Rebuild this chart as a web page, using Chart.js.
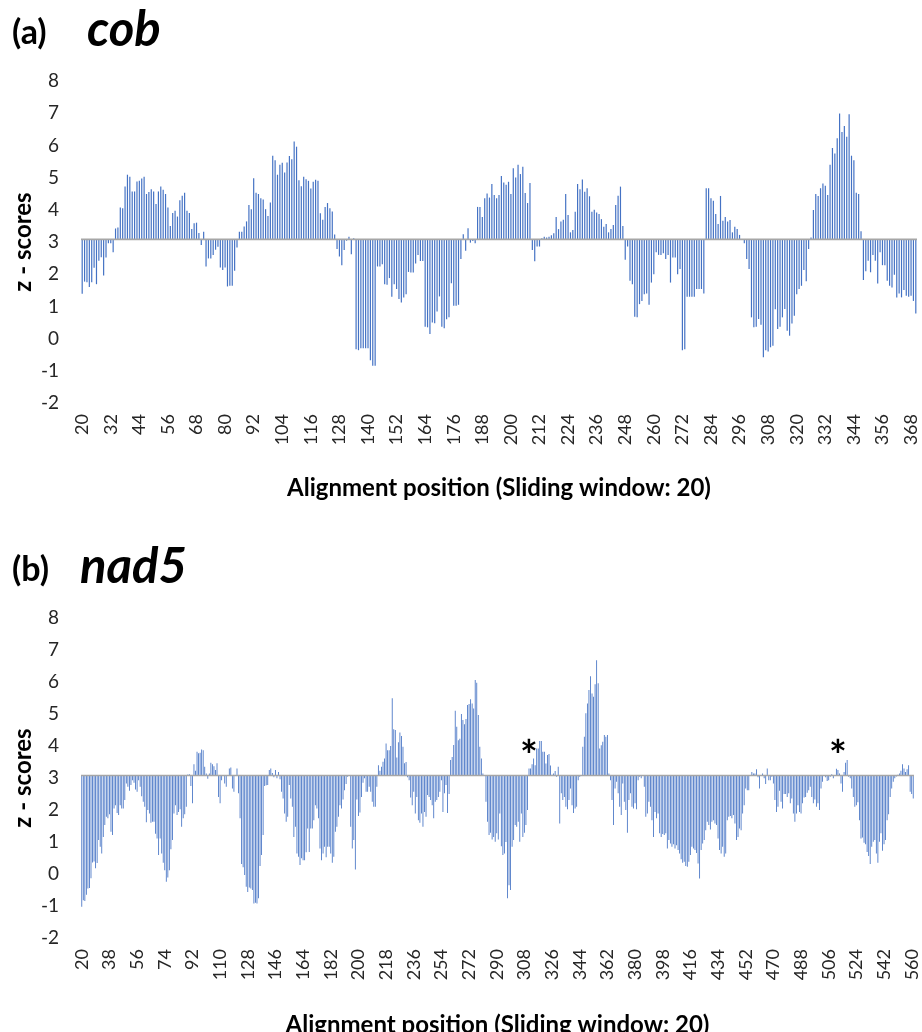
<!DOCTYPE html>
<html>
<head>
<meta charset="utf-8">
<script src="https://cdn.jsdelivr.net/npm/chart.js@4.4.1/dist/chart.umd.min.js"></script>
<style>
  html, body { margin: 0; padding: 0; background: #fff; overflow: hidden; }
  .panel { position: absolute; left: 0; width: 922px; height: 516px; }
</style>
</head>
<body>
<div class="panel" style="top:0"><canvas id="cobChart" width="922" height="516"></canvas></div>
<div class="panel" style="top:537px"><canvas id="nad5Chart" width="922" height="516"></canvas></div>
<script>
// bars are drawn up/down from this z-score (where Excel crossed the axis)
const BASE = 3.08;

// (a) cob, positions 20..370
const cobZ = [
  1.39, 1.77, 1.75, 1.6, 1.75, 2.2, 1.69, 2.42, 2.53, 1.96,
  2.52, 2.96, 2.96, 2.68, 3.42, 3.45, 4.07, 4.05, 4.72, 5.09,
  5.03, 4.57, 4.57, 4.88, 4.9, 4.97, 5.03, 4.49, 4.55, 4.64,
  4.57, 4.18, 4.57, 4.72, 4.62, 4.49, 4.07, 3.5, 3.9, 3.97,
  3.79, 4.3, 4.44, 4.53, 3.97, 3.9, 3.4, 3.58, 3.6, 3.28,
  2.91, 3.32, 2.24, 2.49, 2.49, 2.6, 2.76, 2.85, 2.21, 2.13,
  2.21, 1.62, 1.64, 1.64, 2.11, 2.83, 3.32, 3.32, 3.48, 3.64,
  4.15, 4.02, 4.98, 4.53, 4.49, 4.36, 4.32, 4.02, 3.81, 4.23,
  5.68, 5.54, 5.09, 5.4, 5.46, 5.16, 5.47, 5.67, 5.57, 6.12,
  5.96, 4.92, 4.73, 5.03, 4.95, 4.9, 4.66, 4.87, 4.93, 4.9,
  3.89, 3.69, 4.09, 4.21, 4.05, 3.95, 3.23, 2.78, 2.55, 2.28,
  2.75, 3.04, 3.16, 2.62, 3.12, -0.33, -0.36, -0.3, -0.3, -0.3,
  -0.3, -0.67, -0.84, -0.84, 2.24, 2.24, 2.31, 1.69, 1.67, 1.88,
  1.3, 1.69, 1.54, 1.23, 1.12, 1.28, 1.38, 2.07, 2.05, 2.05,
  2.33, 2.6, 2.41, 2.41, 0.37, 0.35, 0.14, 0.5, 0.48, 0.84,
  1.31, 0.37, 0.32, 0.6, 0.66, 1.72, 1.02, 1.02, 1.05, 2.47,
  3.24, 2.73, 3.43, 2.98, 3.03, 2.96, 4.09, 4.09, 3.78, 4.36,
  4.51, 4.38, 4.8, 4.46, 4.36, 4.46, 5.05, 4.85, 4.78, 4.87,
  4.49, 5.29, 5.0, 5.4, 5.11, 5.34, 4.52, 4.21, 4.83, 2.75,
  2.4, 2.86, 2.86, 3.12, 3.16, 3.14, 3.16, 3.21, 3.27, 3.78,
  3.4, 3.64, 3.69, 4.49, 3.84, 3.3, 3.37, 3.94, 4.8, 4.64,
  4.94, 4.56, 4.67, 4.42, 3.94, 4.0, 3.92, 3.87, 3.71, 3.47,
  3.56, 3.3, 3.4, 3.53, 4.15, 4.44, 4.72, 3.5, 2.45, 2.86,
  1.8, 1.69, 0.68, 0.66, 1.07, 1.17, 1.38, 1.4, 1.05, 1.74,
  2.0, 2.68, 2.6, 2.6, 2.65, 2.47, 2.6, 1.74, 2.52, 2.52,
  2.0, 2.16, -0.36, -0.33, 1.3, 1.3, 1.3, 1.3, 1.54, 1.54,
  1.54, 1.4, 4.67, 4.67, 4.36, 4.28, 3.87, 3.56, 4.43, 3.66,
  3.78, 3.64, 3.68, 3.3, 3.47, 3.4, 3.22, 3.06, 2.96, 2.47,
  2.16, 0.66, 0.35, 0.37, 0.61, 0.43, -0.58, -0.36, -0.4, -0.27,
  -0.22, 0.91, 0.3, 0.37, 0.66, 0.92, 0.24, 0.09, 0.47, 0.71,
  1.38, 1.54, 1.64, 2.13, 1.78, 2.78, 3.14, 3.99, 4.49, 4.43,
  4.67, 4.82, 4.75, 4.46, 5.4, 5.92, 5.75, 6.22, 6.99, 6.42,
  6.6, 6.27, 6.97, 5.68, 5.54, 4.53, 4.49, 3.33, 1.82, 2.09,
  2.42, 2.06, 2.6, 2.42, 1.71, 2.68, 2.28, 2.28, 1.8, 1.64,
  1.59, 1.98, 1.28, 1.4, 1.28, 1.51, 1.33, 1.3, 1.33, 1.17,
  0.78
];
const cobTicks = ['20','32','44','56','68','80','92','104','116','128','140','152','164','176','188',
  '200','212','224','236','248','260','272','284','296','308','320','332','344','356','368'];

// (b) nad5, positions 20..561
const nad5Z = [
  -1.02, -0.82, -0.84, -0.65, -0.45, -0.44, -0.13, 0.36, 0.39, 0.18,
  0.34, 1.06, 0.85, 0.64, 1.16, 1.53, 1.79, 1.74, 1.87, 1.32,
  1.22, 2.05, 2.15, 1.91, 1.84, 2.15, 2.05, 2.05, 2.31, 2.83,
  2.73, 2.6, 2.78, 2.93, 2.85, 2.64, 2.57, 2.93, 2.73, 2.43,
  2.26, 2.1, 1.62, 2.0, 1.89, 1.6, 1.63, 1.63, 1.26, 1.11,
  0.59, 1.11, 0.64, 0.35, 0.12, -0.24, -0.11, 0.12, 0.77, 1.06,
  1.89, 2.15, 1.84, 1.94, 2.02, 1.48, 1.74, 1.87, 2.1, 3.11,
  3.12, 2.75, 2.21, 3.43, 3.23, 3.82, 3.77, 3.79, 3.89, 3.87,
  3.35, 3.14, 2.98, 3.14, 3.48, 3.43, 3.37, 3.25, 3.46, 2.41,
  2.21, 2.93, 3.09, 2.83, 2.73, 3.09, 3.3, 3.33, 2.67, 2.57,
  3.09, 3.3, 2.52, 1.74, 0.31, 0.21, -0.03, -0.4, -0.56, -0.42,
  -0.45, -0.5, -0.92, -0.9, -0.92, -0.76, 0.25, 0.59, 1.22, 2.75,
  2.77, 2.78, 3.25, 3.3, 3.16, 3.02, 3.25, 2.99, 3.19, 2.96,
  2.57, 2.36, 1.89, 1.63, 1.79, 2.78, 2.36, 2.1, 1.16, 1.48,
  0.64, 0.54, 0.28, 0.49, 0.43, 0.43, 0.68, 1.42, 0.69, 1.42,
  1.42, 1.68, 2.15, 2.05, 1.74, 0.8, 0.43, 0.64, 0.85, 0.52,
  0.85, 0.85, 0.64, 0.35, 0.54, 1.32, 1.48, 1.79, 2.15, 2.05,
  2.33, 2.62, 2.81, 3.04, 3.09, 1.48, 0.8, 1.06, 0.14, 2.33,
  1.81, 1.92, 2.41, 2.85, 2.99, 2.57, 2.57, 2.73, 2.57, 2.26,
  2.1, 2.1, 2.73, 3.4, 3.23, 3.35, 3.51, 3.61, 4.08, 3.87,
  3.87, 4.0, 5.49, 4.52, 4.5, 3.64, 4.12, 4.42, 4.31, 3.98,
  3.46, 3.5, 3.02, 2.93, 2.39, 2.15, 2.57, 1.89, 2.41, 1.68,
  1.6, 1.89, 1.48, 1.94, 1.79, 2.47, 2.41, 2.31, 2.15, 1.74,
  2.26, 2.31, 2.41, 2.57, 2.93, 1.94, 2.52, 2.78, 1.91, 2.5,
  3.56, 3.66, 4.03, 5.1, 4.6, 4.18, 4.23, 5.0, 4.81, 4.68,
  4.84, 5.28, 5.31, 5.46, 5.33, 5.17, 6.06, 5.98, 4.97, 3.98,
  3.61, 3.14, 3.06, 2.26, 1.63, 1.22, 1.29, 1.08, 1.16, 1.01,
  1.27, 1.08, 1.89, 0.87, 0.59, 0.64, 1.0, -0.76, -0.35, -0.5,
  0.85, 1.06, 1.53, 1.48, 1.63, 1.01, 1.89, 1.16, 1.29, 1.53,
  2.0, 3.3, 3.3, 3.43, 3.61, 3.4, 3.92, 3.92, 4.16, 4.16,
  3.82, 3.82, 3.45, 3.72, 3.75, 3.39, 3.1, 3.14, 3.22, 3.04,
  3.35, 1.58, 2.52, 2.31, 2.41, 2.1, 2.02, 2.31, 2.67, 2.15,
  1.91, 2.05, 2.1, 2.93, 3.04, 3.09, 3.98, 4.29, 5.02, 5.33,
  5.75, 6.18, 5.64, 5.54, 5.93, 6.68, 5.96, 3.92, 4.02, 4.13,
  4.34, 4.29, 4.34, 3.14, 2.93, 2.31, 1.53, 2.67, 2.88, 2.52,
  2.1, 1.84, 2.83, 2.26, 2.0, 1.29, 2.31, 2.52, 2.1, 2.05,
  2.21, 2.02, 2.93, 3.04, 2.99, 3.09, 2.73, 1.79, 1.89, 2.26,
  2.1, 1.68, 1.16, 1.94, 1.74, 1.89, 1.27, 1.16, 1.25, 1.22,
  1.27, 0.8, 1.06, 0.95, 0.85, 0.93, 0.8, 0.9, 0.75, 0.64,
  0.46, 0.35, 0.38, 0.25, 0.23, 0.38, 0.59, 0.85, 0.8, 0.75,
  0.66, 0.33, -0.14, 0.75, 0.95, 1.06, 1.37, 1.63, 1.53, 1.39,
  1.63, 1.68, 1.58, 1.53, 1.11, 0.75, 0.64, 0.85, 0.54, 0.64,
  1.68, 1.79, 1.81, 1.74, 1.84, 1.58, 1.06, 1.16, 1.42, 1.37,
  1.89, 2.15, 2.67, 2.62, 2.62, 3.09, 3.19, 3.14, 3.14, 3.27,
  3.02, 2.67, 3.06, 3.14, 2.99, 2.81, 3.3, 2.93, 2.93, 3.04,
  2.83, 2.31, 1.94, 2.1, 2.6, 2.26, 2.05, 2.5, 2.5, 2.41,
  2.52, 2.21, 2.36, 1.89, 1.63, 1.89, 2.15, 1.94, 1.89, 2.21,
  2.39, 2.41, 2.54, 2.62, 2.73, 2.41, 2.21, 2.33, 2.1, 2.21,
  2.0, 2.67, 2.88, 3.09, 3.02, 2.91, 2.93, 3.04, 3.12, 2.99,
  3.06, 3.29, 3.25, 3.14, 2.83, 2.57, 3.19, 3.48, 3.56, 3.04,
  2.99, 2.67, 2.41, 2.1, 2.15, 2.24, 1.68, 1.11, 1.14, 0.98,
  0.93, 0.69, 0.56, 0.31, 0.85, 1.01, 1.06, 0.64, 0.35, 1.01,
  1.27, 0.73, 0.93, 1.06, 1.68, 1.87, 2.41, 2.67, 2.88, 2.99,
  3.05, 3.1, 3.14, 3.23, 3.43, 3.3, 3.19, 3.27, 3.4, 2.57,
  2.5, 2.36
];
const nad5Ticks = ['20','38','56','74','92','110','128','146','164','182','200','218','236','254','272',
  '290','308','326','344','362','380','398','416','434','452','470','488','506','524','542','560'];
// positions marked with an asterisk in panel (b)
const nad5Stars = ['311', '512'];

const cobPositions = cobZ.map((_, i) => String(20 + i));
const nad5Positions = nad5Z.map((_, i) => String(20 + i));

const FONT = 'Lato';

const panelDecor = {
  id: 'panelDecor',
  afterDatasetsDraw(chart) {
    const { ctx, chartArea, scales: { y } } = chart;
    const yb = y.getPixelForValue(BASE);
    ctx.save();
    ctx.strokeStyle = '#a6a6a6';
    ctx.lineWidth = 1.6;
    ctx.beginPath();
    ctx.moveTo(chartArea.left, yb);
    ctx.lineTo(chartArea.right, yb);
    ctx.stroke();
    ctx.restore();
  },
  afterDraw(chart, args, opts) {
    const { ctx, scales: { x, y } } = chart;
    ctx.save();
    ctx.fillStyle = '#000';
    ctx.textBaseline = 'alphabetic';
    ctx.textAlign = 'left';
    ctx.font = 'bold 34px ' + FONT;
    ctx.fillText(opts.tag, 12, 44);
    ctx.font = 'italic bold 49px ' + FONT;
    ctx.fillText(opts.gene, opts.geneX, 46);
    // asterisks above the marked positions
    ctx.font = 'bold 42px ' + FONT;
    ctx.textAlign = 'center';
    (opts.stars || []).forEach(s => {
      const px = x.getPixelForValue(chart.data.labels.indexOf(s));
      ctx.fillText('*', px, y.getPixelForValue(3.9) + 22);
    });
    ctx.restore();
  }
};

function panelOptions(tickLabels, decor, rightPad, xHeight) {
  return {
    responsive: false,
    animation: false,
    layout: { padding: { top: 81, right: rightPad, left: 0, bottom: 0 } },
    plugins: {
      legend: { display: false },
      tooltip: { enabled: false },
      panelDecor: decor
    },
    scales: {
      x: {
        grid: { display: false, drawTicks: false },
        border: { display: false },
        ticks: {
          autoSkip: false, minRotation: 90, maxRotation: 90, padding: 11,
          color: '#262626', font: { family: FONT, size: 18 },
          callback(v) {
            const l = this.getLabelForValue(v);
            return tickLabels.includes(l) ? l : '';
          }
        },
        title: {
          display: true, text: 'Alignment position (Sliding window: 20)', color: '#000',
          font: { family: FONT, size: 24, weight: 'bold' }, padding: { top: 0, bottom: 13 }
        },
        afterFit(s) { s.height = xHeight; s.paddingLeft = 0; s.paddingRight = 0; }
      },
      y: {
        min: -2, max: 8,
        grid: { display: false, drawTicks: false },
        border: { display: false },
        ticks: { stepSize: 1, padding: 22, color: '#262626', font: { family: FONT, size: 19 } },
        title: {
          display: true, text: 'z - scores', color: '#000',
          font: { family: FONT, size: 24, weight: 'bold' }, padding: { top: 9, bottom: 0 }
        },
        afterFit(s) { s.width = 81; s.paddingTop = 0; s.paddingBottom = 0; }
      }
    }
  };
}

new Chart(document.getElementById('cobChart'), {
  type: 'bar',
  data: {
    labels: cobPositions,
    datasets: [{ data: cobZ, base: BASE, backgroundColor: '#4472c4', borderWidth: 0,
      barPercentage: 0.5, categoryPercentage: 1 }]
  },
  options: panelOptions(cobTicks, { tag: '(a)', gene: 'cob', geneX: 87, stars: [] }, 5, 113),
  plugins: [panelDecor]
});

new Chart(document.getElementById('nad5Chart'), {
  type: 'bar',
  data: {
    labels: nad5Positions,
    datasets: [{ data: nad5Z, base: BASE, backgroundColor: '#4472c4', borderWidth: 0,
      barPercentage: 0.55, categoryPercentage: 1 }]
  },
  options: panelOptions(nad5Ticks, { tag: '(b)', gene: 'nad5', geneX: 80, stars: nad5Stars }, 8, 115),
  plugins: [panelDecor]
});
</script>
</body>
</html>
